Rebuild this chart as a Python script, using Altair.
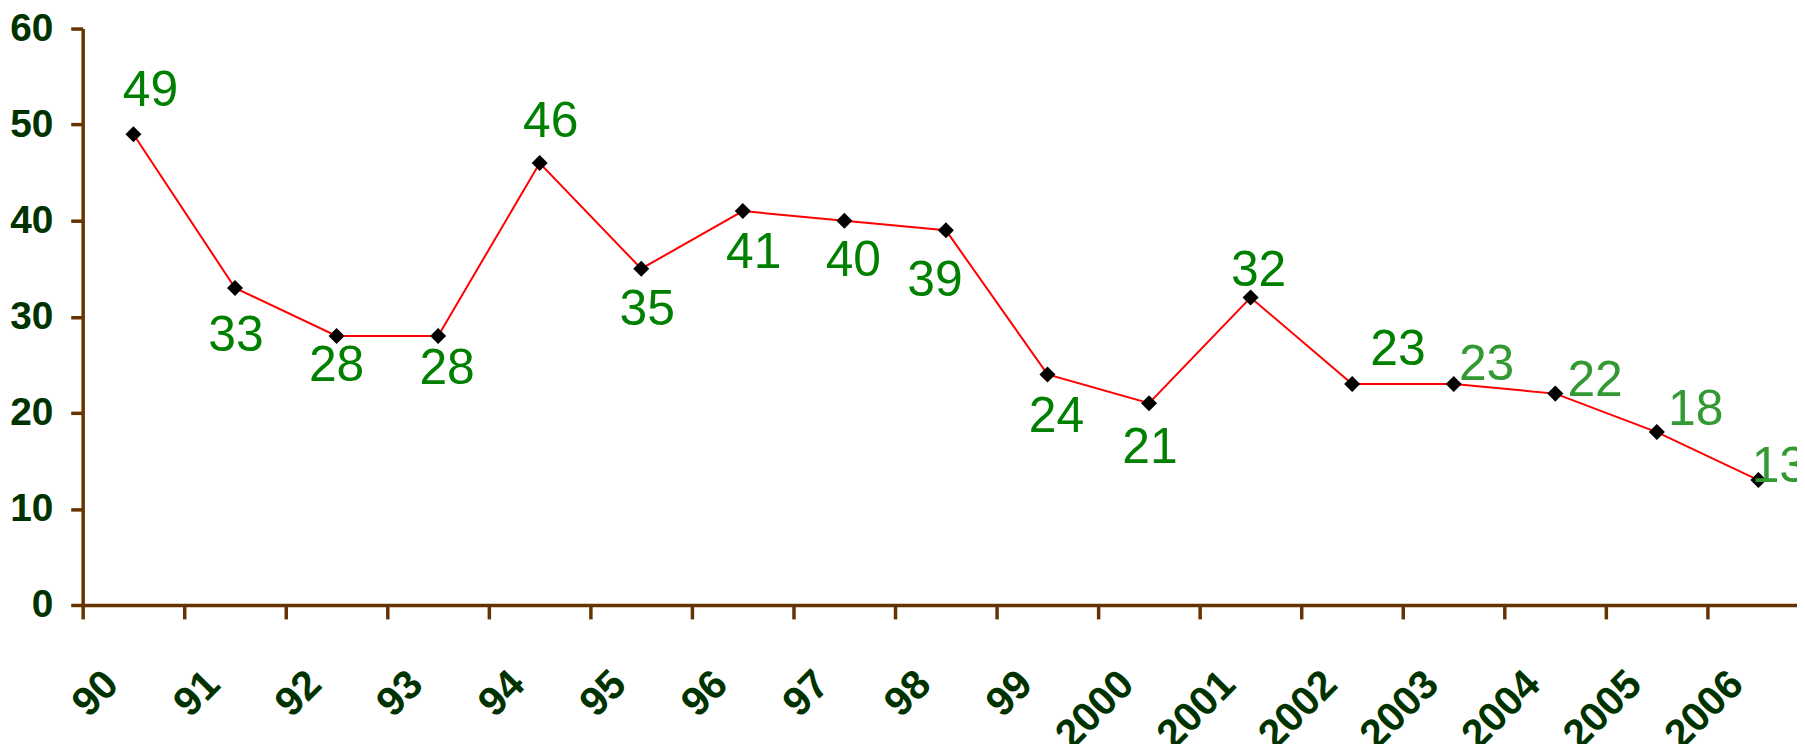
import altair as alt
import pandas as pd

# ---- data ----
YEARS = ["90", "91", "92", "93", "94", "95", "96", "97", "98", "99",
         "2000", "2001", "2002", "2003", "2004", "2005", "2006"]
VALUES = [49, 33, 28, 28, 46, 35, 41, 40, 39, 24, 21, 32, 23, 23, 22, 18, 13]

# ---- styling (label placement in pixels relative to the point, label colours) ----
LABEL_OFFSETS = [(17, -46), (1, 45), (0, 27), (9, 30), (11, -44), (6, 39), (11, 39),
                 (9, 38), (-11, 48), (9, 40), (1, 42), (8, -30), (46, -37),
                 (33, -22), (40, -16), (39, -25), (21, -16)]
LABEL_COLORS = ["#008000"] * 13 + ["#339933"] * 4

df = pd.DataFrame({
    "idx": list(range(len(YEARS))),
    "year": YEARS,
    "value": VALUES,
})

AXIS_BROWN = "#663300"
LABEL_DARK = "#003300"
FONT = "Liberation Sans"

label_array = "[" + ",".join("'" + y + "'" for y in YEARS) + "]"
tick_vals = [i - 0.5 for i in range(len(YEARS))]

x_scale = alt.Scale(domain=[-0.5, 16.38], nice=False, zero=False)
y_scale = alt.Scale(domain=[0, 60], nice=False)

x_enc = alt.X(
    "idx:Q", scale=x_scale, title=None,
    axis=alt.Axis(
        values=tick_vals,
        labelExpr=label_array + "[round(datum.value + 0.5)]",
        labelAngle=-45, labelAlign="right", labelBaseline="middle",
        labelOffset=29, labelPadding=59, labelOverlap=False, labelFlush=False,
        labelBound=False,
        labelFont=FONT, labelFontSize=41, labelFontWeight="bold", labelColor=LABEL_DARK,
        tickSize=14, tickWidth=3.5, tickColor=AXIS_BROWN,
        domainColor=AXIS_BROWN, domainWidth=3.5, grid=False,
    ),
)
y_enc = alt.Y(
    "value:Q", scale=y_scale, title=None,
    axis=alt.Axis(
        values=[0, 10, 20, 30, 40, 50, 60],
        labelFont=FONT, labelFontSize=39, labelFontWeight="bold", labelColor=LABEL_DARK,
        labelPadding=18, tickSize=12, tickWidth=3.5, tickColor=AXIS_BROWN,
        domainColor=AXIS_BROWN, domainWidth=3.5, grid=False,
    ),
)

base = alt.Chart(df)
line = base.mark_line(color="#FF0000", strokeWidth=2).encode(x=x_enc, y=y_enc)
pts = base.mark_point(shape="diamond", filled=True, color="#000000", size=260,
                      opacity=1).encode(x="idx:Q", y="value:Q")

layers = [line, pts]
for i, (dx, dy) in enumerate(LABEL_OFFSETS):
    layers.append(
        base.transform_filter(alt.datum.idx == i)
        .mark_text(font=FONT, fontSize=50, color=LABEL_COLORS[i],
                   align="center", baseline="middle", dx=dx, dy=dy + 3)
        .encode(x="idx:Q", y="value:Q", text="value:Q")
    )

chart = alt.layer(*layers).properties(
    width=1722, height=579,
    autosize=alt.AutoSizeParams(type="none"),
    padding={"left": 75, "top": 19, "right": 0, "bottom": 138},
).configure(background="white").configure_view(strokeWidth=0, stroke="transparent")

chart.save("out.html", embed_options={"renderer": "svg", "actions": False})
